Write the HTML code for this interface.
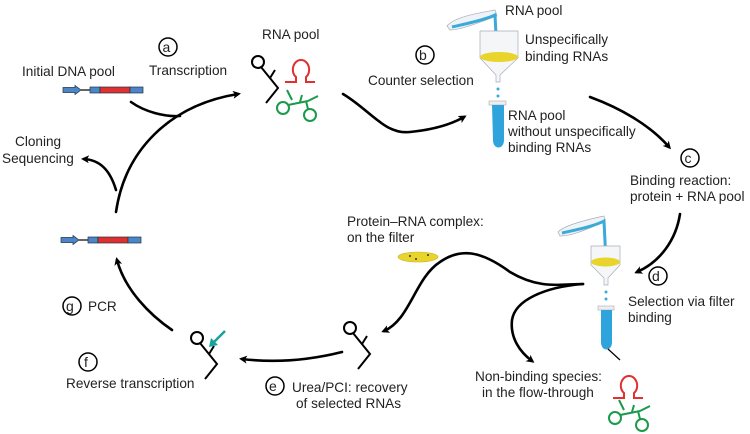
<!DOCTYPE html>
<html><head><meta charset="utf-8"><style>
html,body{margin:0;padding:0;background:#fff;}
svg{display:block;}
text{font-family:"Liberation Sans",Arial,sans-serif;font-size:13.6px;fill:#222;}
.c{fill:none;stroke:#000;stroke-width:1.5;}
.a{fill:none;stroke:#000;stroke-width:2.6;stroke-linecap:round;}
.k{fill:none;stroke:#000;stroke-width:2;}
.r{fill:none;stroke:#e03030;stroke-width:2;}
.g{fill:none;stroke:#1a9a4a;stroke-width:2;}
</style></head><body>
<svg width="750" height="434" viewBox="0 0 750 434" xmlns="http://www.w3.org/2000/svg">
<defs>
<marker id="ah" markerWidth="8" markerHeight="8" refX="5" refY="4" orient="auto" markerUnits="userSpaceOnUse" viewBox="0 0 8 8">
<path d="M0,0 L8,4 L0,8 L2,4 Z" fill="#000"/></marker>
<g id="dna">
<path d="M0,-2.5 H12 V-4.5 L18,0 L12,4.5 V2.5 H0 Z" fill="#4a86c8" stroke="#234" stroke-width="0.7"/>
<line x1="18" y1="0" x2="27" y2="0" stroke="#333" stroke-width="1.5"/>
<rect x="27" y="-3" width="10" height="6" fill="#4a86c8" stroke="#234" stroke-width="0.7"/>
<rect x="37" y="-3" width="30" height="6" fill="#e03030" stroke="#234" stroke-width="0.7"/>
<rect x="67" y="-3" width="13" height="6" fill="#4a86c8" stroke="#234" stroke-width="0.7"/>
</g>
<g id="rb"><circle cx="0" cy="0" r="6" class="k"/><path d="M3,5 L20,26 L8,41" class="k"/><path d="M12,16 L17,8" class="k"/></g>
<g id="rr"><path d="M-16,16 H-5 V11 C-11,6 -8,-6 0,-6 C8,-6 11,6 5,11 V16 H14" class="r"/></g>
<g id="rg"><path d="M-8,-6 L-3,4 M-7,9 L13,5 M5,6 L7,-1 M13,5 L23,0 M11,5 L13,13" class="g"/><circle cx="-12" cy="12" r="6" class="g"/><circle cx="15" cy="19" r="6" class="g"/></g>
</defs>

<!-- step a -->
<text x="22" y="76">Initial DNA pool</text>
<circle cx="168" cy="47" r="9" class="c"/><text x="162.5" y="52" style="font-size:14px">a</text>
<text x="149" y="75">Transcription</text>
<use href="#dna" x="63" y="90"/>
<text x="262" y="39">RNA pool</text>
<use href="#rb" x="258" y="62"/>
<use href="#rr" x="301" y="66"/>
<use href="#rg" x="295" y="96"/>

<path d="M131,102 C145,112 165,117 180,116" class="a"/>
<path d="M116,212 C125,150 170,105 238,94" class="a" marker-end="url(#ah)"/>
<path d="M116,190 C110,170 100,160 84,159" class="a" marker-end="url(#ah)"/>
<text x="15" y="146">Cloning</text>
<text x="2" y="163">Sequencing</text>

<!-- step b -->
<circle cx="425" cy="55" r="9" class="c"/><text x="419" y="60" style="font-size:14px">b</text>
<text x="368" y="85">Counter selection</text>
<path d="M343,94 C370,110 385,135 410,132 C430,130 450,125 464,117" class="a" marker-end="url(#ah)"/>
<!-- apparatus 1 -->
<path d="M447,26 C455,16 485,12 495,10 L497,16 C485,20 462,30 450,30 Z" fill="#eef3f7" stroke="#aab" stroke-width="0.7"/>
<path d="M452,27 C465,24 485,20 495,15 L497,55" fill="none" stroke="#3aaad8" stroke-width="3"/>
<path d="M480,31 L518,31 L518,58 L500,75 L500,82 L496,82 L496,75 L480,58 Z" fill="#f4f6f8" stroke="#aab" stroke-width="0.7"/>
<ellipse cx="499" cy="57" rx="19" ry="5" fill="#e8d42a"/>
<circle cx="498" cy="89" r="1.5" fill="#3aaad8"/><circle cx="498" cy="96" r="1.5" fill="#3aaad8"/>
<rect x="489" y="101" width="17" height="4" fill="#eee" stroke="#aab" stroke-width="0.6"/>
<path d="M492,105 L504,105 L504,140 C504,150 493,150 493,140 Z" fill="#2fa4dc"/>
<text x="505" y="15">RNA pool</text>
<text x="525" y="44">Unspecifically</text>
<text x="525" y="61">binding RNAs</text>
<text x="508" y="120">RNA pool</text>
<text x="508" y="136">without unspecifically</text>
<text x="508" y="152">binding RNAs</text>

<!-- step c -->
<path d="M590,97 C620,108 650,125 669,147" class="a" marker-end="url(#ah)"/>
<circle cx="690" cy="158" r="9" class="c"/><text x="684.5" y="163" style="font-size:14px">c</text>
<text x="630" y="185">Binding reaction:</text>
<text x="630" y="201">protein + RNA pool</text>

<!-- step d -->
<path d="M680,214 C676,240 660,262 637,272" class="a" marker-end="url(#ah)"/>
<circle cx="658" cy="276" r="9" class="c"/><text x="652" y="281" style="font-size:14px">d</text>
<text x="628" y="306">Selection via filter</text>
<text x="628" y="322">binding</text>
<!-- apparatus 2 -->
<path d="M558,232 C565,224 595,218 604,216 L605,222 C595,225 575,236 560,236 Z" fill="#eef3f7" stroke="#aab" stroke-width="0.7"/>
<path d="M562,233 C575,230 595,226 604,221 L606,262" fill="none" stroke="#3aaad8" stroke-width="3"/>
<path d="M591,246 L620,246 L620,265 L608,278 L608,285 L604,285 L604,278 L591,265 Z" fill="#f4f6f8" stroke="#aab" stroke-width="0.7"/>
<ellipse cx="605.5" cy="262" rx="14.5" ry="4.5" fill="#e8d42a"/>
<circle cx="606" cy="292" r="1.5" fill="#3aaad8"/><circle cx="606" cy="299" r="1.5" fill="#3aaad8"/>
<rect x="598" y="306" width="16" height="4" fill="#eee" stroke="#aab" stroke-width="0.6"/>
<path d="M601,310 L612,310 L612,342 C612,352 601,352 601,342 Z" fill="#2fa4dc"/>
<line x1="608" y1="349" x2="620" y2="360" stroke="#000" stroke-width="1.2"/>
<use href="#rr" x="629" y="382"/>
<use href="#rg" x="627" y="406"/>
<text x="475" y="381">Non-binding species:</text>
<text x="482" y="397">in the flow-through</text>

<!-- junction curves -->
<path d="M583,284 C562,284 540,290 510,272 C480,250 460,248 440,262 C415,278 410,320 384,331" class="a" marker-end="url(#ah)"/>
<path d="M583,284 C545,287 515,300 512,320 C510,338 520,352 532,361" class="a" marker-end="url(#ah)"/>
<text x="347" y="226">Protein–RNA complex:</text>
<text x="347" y="242">on the filter</text>
<ellipse cx="418" cy="257" rx="20" ry="5" fill="#e8d42a" stroke="#c8b420" stroke-width="0.6"/>
<circle cx="410" cy="256" r="1" fill="#333"/><circle cx="428" cy="255" r="1" fill="#333"/><circle cx="416" cy="259" r="1" fill="#333"/>

<!-- step e -->
<use href="#rb" x="350" y="328"/>
<path d="M342,352 C310,360 275,363 242,359" class="a" marker-end="url(#ah)"/>
<circle cx="275" cy="386" r="9" class="c"/><text x="269" y="391" style="font-size:14px">e</text>
<text x="292" y="392">Urea/PCI: recovery</text>
<text x="296" y="408">of selected RNAs</text>

<!-- step f -->
<use href="#rb" x="197" y="338"/>
<path d="M225,331 L213,343" stroke="#17a39a" stroke-width="2.5"/>
<path d="M209,347 L211,338 L218,345 Z" fill="#17a39a"/>
<circle cx="88" cy="362" r="9" class="c"/><text x="84" y="367" style="font-size:14px">f</text>
<text x="66" y="388">Reverse transcription</text>

<!-- step g -->
<use href="#dna" x="61" y="240"/>
<path d="M172,330 C150,315 125,290 117,260" class="a" marker-end="url(#ah)"/>
<circle cx="72" cy="306" r="9" class="c"/><text x="66" y="311" style="font-size:14px">g</text>
<text x="88" y="311">PCR</text>
</svg>
</body></html>
